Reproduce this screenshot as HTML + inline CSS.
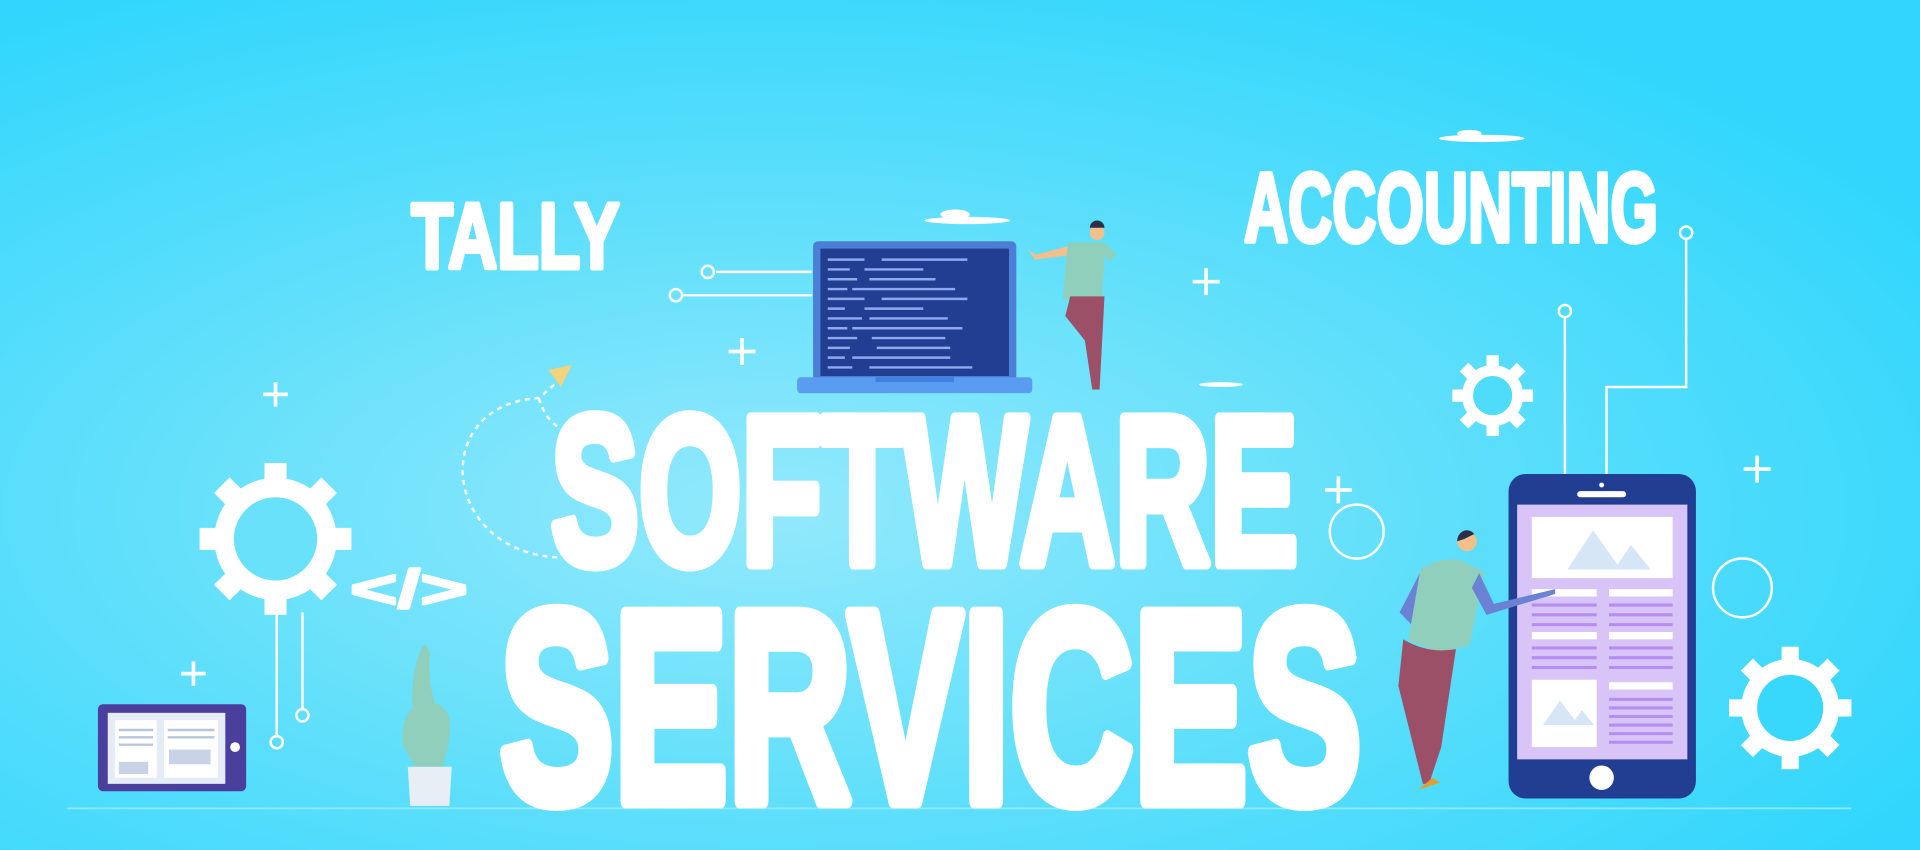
<!DOCTYPE html>
<html><head><meta charset="utf-8"><style>
html,body{margin:0;padding:0;width:1920px;height:850px;overflow:hidden}
svg{display:block}
.t{font-family:"Liberation Sans",sans-serif;font-weight:700;fill:#fff;stroke:#fff;stroke-linejoin:round}
</style></head><body>
<svg width="1920" height="850" viewBox="0 0 1568 694" preserveAspectRatio="none" xmlns="http://www.w3.org/2000/svg">
<defs>
<radialGradient id="bg" cx="0.4" cy="0.6" r="0.7">
<stop offset="0" stop-color="#93e9fc"/>
<stop offset="0.5" stop-color="#5fdffb"/>
<stop offset="1" stop-color="#30d6fd"/>
</radialGradient>
</defs>
<rect width="1568" height="694" fill="url(#bg)"/>
<line x1="55" y1="660" x2="1512" y2="660" stroke="#8eeafc" stroke-width="1.5"/>

<text class="t" x="336" y="219" font-size="76" stroke-width="4" textLength="170" lengthAdjust="spacingAndGlyphs">TALLY</text>
<text class="t" x="1016" y="197" font-size="80" stroke-width="4" textLength="338" lengthAdjust="spacingAndGlyphs">ACCOUNTING</text>
<text class="t" x="450" y="460" font-size="172" stroke-width="10" textLength="610" lengthAdjust="spacingAndGlyphs">SOFTWARE</text>
<text class="t" x="408" y="654" font-size="222" stroke-width="12" textLength="704" lengthAdjust="spacingAndGlyphs">SERVICES</text>
<text class="t" x="286" y="496" font-size="44" stroke-width="2" textLength="96" lengthAdjust="spacingAndGlyphs">&lt;/&gt;</text>

<g stroke="#fff" stroke-width="3">
<path d="M215 322h20M225 312v20"/><path d="M148 550h20M158 540v20"/>
<path d="M595 287h22M606 276v22"/><path d="M974 230h22M985 219v22"/>
<path d="M1082 400h22M1093 389v22"/><path d="M1424 383h22M1435 372v22"/>
</g>
<g fill="none" stroke="#fff" stroke-width="2">
<circle cx="1108" cy="434" r="22"/><circle cx="1423" cy="480" r="24"/>
<path d="M585 222h78M558 241h105"/><circle cx="578" cy="222" r="5"/><circle cx="552" cy="241" r="5"/>
<path d="M226 500v100M247 500v80"/><circle cx="226" cy="606" r="5"/><circle cx="247" cy="584" r="5"/>
<path d="M1278 259v130M1377 196v120h-65v72"/><circle cx="1278" cy="254" r="5"/><circle cx="1377" cy="190" r="5"/>
<path d="M455 455 C 360 450, 350 330, 440 325 L 455 312" stroke-dasharray="4 4"/>
<path d="M440 325 C 445 340, 450 345, 458 350" stroke-dasharray="4 4"/>
</g>
<path d="M448 302 L467 298 L458 316 Z" fill="#f5d37a"/>

<g fill="#fff">
<g transform="translate(225,440)"><circle r="50"/><g id="t"><rect x="-9" y="-62" width="18" height="20"/><rect x="-9" y="42" width="18" height="20"/><rect x="-62" y="-9" width="20" height="18"/><rect x="42" y="-9" width="20" height="18"/></g><use href="#t" transform="rotate(45)"/><circle r="34" fill="#6ae1fb"/></g>
<g transform="translate(1219,323)"><circle r="25"/><g id="t2"><rect x="-5" y="-33" width="10" height="10"/><rect x="-5" y="23" width="10" height="10"/><rect x="-33" y="-5" width="10" height="10"/><rect x="23" y="-5" width="10" height="10"/></g><use href="#t2" transform="rotate(45)"/><circle r="16" fill="#4fdcfb"/></g>
<g transform="translate(1462,578)"><circle r="40"/><g id="t3"><rect x="-7" y="-50" width="14" height="14"/><rect x="-7" y="36" width="14" height="14"/><rect x="-50" y="-7" width="14" height="14"/><rect x="36" y="-7" width="14" height="14"/></g><use href="#t3" transform="rotate(45)"/><circle r="27" fill="#38d8fc"/></g>
<ellipse cx="790" cy="180" rx="35" ry="3"/><ellipse cx="780" cy="175" rx="12" ry="4"/>
<ellipse cx="1210" cy="113" rx="35" ry="3"/><ellipse cx="1200" cy="109" rx="10" ry="3"/>
<ellipse cx="997" cy="314" rx="18" ry="2"/>
</g>

<rect x="664" y="197" width="166" height="114" rx="4" fill="#4b7fd6"/>
<rect x="670" y="203" width="154" height="104" fill="#223e93"/>
<g stroke-width="2">
<path d="M676 212h30M720 212h70M676 220h18M706 220h48M676 228h24M710 228h54M676 236h16M696 236h84M676 244h30M720 244h70M676 252h14M706 252h48M676 260h28M710 260h64M676 268h16M696 268h90M676 276h24M712 276h60M676 284h18M716 284h60M676 292h14M696 292h80M676 300h20M710 300h84" stroke="#8fa8f0"/>
</g>
<rect x="651" y="308" width="192" height="13" rx="3" fill="#5a9cf2"/>
<rect x="715" y="308" width="64" height="4" fill="#3e7fe0"/>

<path d="M876 200 l-30 8 -6 -4 5 8 32 -4z" fill="#f3c08c"/>
<path d="M872 198 h30 l10 10 -6 6 -4 -6 -2 36 h-32z" fill="#8fcfbc"/>
<path d="M874 242h28l-4 76h-6l-6-40-16-20z" fill="#9c5068"/>
<circle cx="896" cy="190" r="6" fill="#f3c08c"/>
<path d="M890 186 a6 6 0 0 1 12 0z" fill="#2b2f4a"/>

<rect x="1232" y="387" width="153" height="265" rx="14" fill="#223e93"/>
<rect x="1239" y="412" width="139" height="208" fill="#d8c4f6"/>
<circle cx="1308" cy="396" r="2" fill="#fff"/><rect x="1288" y="401" width="40" height="5" rx="2.5" fill="#fff"/>
<ellipse cx="1308" cy="635" rx="10" ry="10" fill="#fff"/>
<rect x="1251" y="422" width="115" height="50" fill="#fff"/>
<path d="M1280 465l21-32 20 28 11-16 16 20z" fill="#d6e6f6"/>
<rect x="1251" y="555" width="53" height="55" fill="#fff"/>
<path d="M1260 592l14-20 12 16 6-8 10 12z" fill="#d6e6f6"/>
<g fill="#fff"><rect x="1251" y="481" width="53" height="6"/><rect x="1314" y="481" width="52" height="6"/><rect x="1251" y="516" width="53" height="6"/><rect x="1314" y="516" width="52" height="6"/><rect x="1314" y="557" width="52" height="6"/></g>
<g stroke="#b58df0" stroke-width="2.5">
<path d="M1251 494h53M1251 502h53M1251 510h53M1314 494h52M1314 502h52M1314 510h52M1251 529h53M1251 537h53M1251 545h53M1314 529h52M1314 537h52M1314 545h52M1314 571h52M1314 578h52M1314 585h52M1314 592h52M1314 599h52M1314 606h52"/>
</g>
<path d="M1160 467l-17 33 35 36 7-4-30-34 14-22z" fill="#6b82d4"/>
<path d="M1160 465 q15-10 32-8 l20 10 -12 60 -25 6 -25-10z" fill="#8fcfbc"/>
<path d="M1208 468l12 25 50-12 0 4-56 17-12-22z" fill="#6b82d4"/>
<path d="M1146 522 q20 12 43 8 l-12 80 -10 30 h-5 l-20-80z" fill="#9c5068"/>
<circle cx="1198" cy="442" r="8" fill="#f3c08c"/><path d="M1190 442 a8 9 0 0 1 14 -6 l-8 4z" fill="#2b2f4a"/>
<path d="M1158 645l12-10 6 4z" fill="#e0a030"/>

<rect x="80" y="575" width="121" height="71" rx="4" fill="#4b3f9e"/>
<rect x="88" y="582" width="96" height="58" fill="#e6ecf6"/>
<rect x="94" y="588" width="34" height="47" fill="#fff"/><rect x="134" y="588" width="44" height="47" fill="#fff"/>
<g stroke="#b8c6dc" stroke-width="2"><path d="M97 596h28M97 602h28M97 608h28M137 596h38M137 602h38"/></g>
<rect x="97" y="622" width="24" height="10" fill="#c8d4e6"/><rect x="138" y="612" width="34" height="12" fill="#c8d4e6"/>
<circle cx="192" cy="610" r="4" fill="#fff"/>
<path d="M345 528 q-10 20 -8 50 q-10 10 -8 30 l10 18 h22 q8 -20 6 -40 q-4 -10 -12 -12 q-6 -20 -4 -40 q-2 -10 -6 -6z" fill="#8fcfbc"/>
<path d="M333 626h36l-2 32h-32z" fill="#e8eef6"/>
</svg>
</body></html>
